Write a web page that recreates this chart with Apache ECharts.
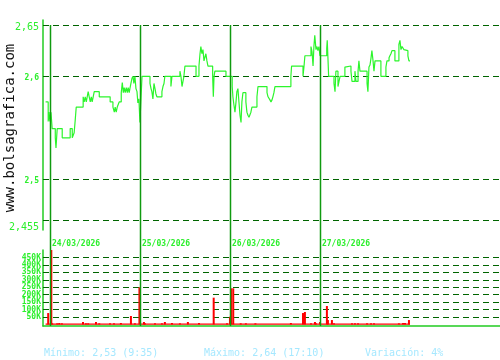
<!DOCTYPE html>
<html><head><meta charset="utf-8">
<script src="https://cdn.jsdelivr.net/npm/echarts@6/dist/echarts.min.js"></script>
<style>html,body{margin:0;padding:0;background:#fff}#c{width:500px;height:360px}</style>
</head><body><div id="c"></div>
<script>
// ---- data ----
const days = ['24/03/2026', '25/03/2026', '26/03/2026', '27/03/2026'];
const priceTicks = [2.455, 2.5, 2.6, 2.65];
const volumeTicks = [50000, 100000, 150000, 200000, 250000, 300000, 350000, 400000, 450000];

const d1Times = ['8:35','8:50','8:55','9:00','9:06','9:13','9:31','9:35','9:42','10:11','10:57','11:09','11:20','11:26','11:32','12:12','12:18','12:24','12:30','12:41','12:47','12:53','12:59','13:04','13:10','13:16','13:45','14:48','15:04','15:12','15:17','15:23','15:29','15:40','15:52','15:58','16:04','16:09','16:15','16:21','16:27','16:32','16:38','16:42','16:48','16:54','17:00','17:05','17:11','17:17','17:23','17:28','17:34'];
const d1Prices = [2.575,2.556,2.565,2.556,2.565,2.549,2.540,2.530,2.549,2.540,2.549,2.540,2.545,2.557,2.570,2.580,2.575,2.580,2.575,2.585,2.580,2.575,2.580,2.575,2.580,2.585,2.580,2.575,2.570,2.565,2.570,2.565,2.570,2.575,2.584,2.594,2.584,2.589,2.584,2.589,2.584,2.589,2.584,2.588,2.593,2.598,2.600,2.593,2.600,2.588,2.585,2.574,2.578];

const d2Times = ['9:00','9:06','9:12','9:58','10:04','10:09','10:15','10:21','10:27','10:32','10:38','11:07','11:13','11:19','11:24','11:59','12:05','12:51','12:57','13:03','13:14','13:20','14:24','14:41','14:47','14:52','14:58','15:04','15:10','15:16','15:21','15:27','15:33','16:00','16:04','16:08','16:13','17:17','17:34'];
const d2Prices = [2.555,2.578,2.600,2.593,2.588,2.585,2.578,2.593,2.588,2.583,2.580,2.585,2.590,2.593,2.600,2.590,2.600,2.605,2.600,2.590,2.600,2.610,2.600,2.610,2.622,2.629,2.622,2.626,2.615,2.619,2.622,2.615,2.610,2.600,2.580,2.600,2.605,2.600,2.600];

const d3Times = ['9:00','9:13','9:17','9:23','9:29','9:35','9:40','9:46','9:52','9:58','10:04','10:09','10:15','10:32','10:38','10:44','10:50','11:01','11:07','11:36','11:42','12:34','12:40','12:51','12:57','13:03','13:08','13:14','13:20','14:52','14:56','16:02','16:08','16:13','16:48','16:54','17:00','17:05','17:10','17:17','17:23','17:28','17:34'];
const d3Prices = [2.600,2.590,2.580,2.572,2.565,2.575,2.585,2.588,2.575,2.562,2.555,2.575,2.584,2.575,2.565,2.562,2.560,2.565,2.570,2.580,2.590,2.584,2.580,2.577,2.575,2.577,2.580,2.584,2.590,2.600,2.610,2.600,2.610,2.620,2.629,2.624,2.610,2.629,2.640,2.626,2.629,2.625,2.629];

const d4Times = ['9:00','9:39','9:42','9:46','9:50','10:21','10:27','10:32','10:44','10:50','10:56','11:24','11:30','11:59','12:05','12:22','12:28','12:40','12:45','12:51','13:32','13:37','13:43','13:49','13:55','14:00','14:06','14:12','14:18','14:52','15:21','15:27','15:39','15:44','15:50','15:56','16:13','16:36','16:42','16:48','16:54','17:05','17:11','17:28','17:34','17:40'];
const d4Prices = [2.620,2.627,2.635,2.618,2.600,2.593,2.585,2.605,2.590,2.595,2.600,2.609,2.610,2.605,2.595,2.605,2.595,2.605,2.615,2.605,2.593,2.585,2.609,2.611,2.618,2.625,2.616,2.605,2.615,2.600,2.609,2.615,2.618,2.620,2.622,2.625,2.615,2.631,2.635,2.626,2.629,2.626,2.625,2.620,2.615,2.615];

const v1Times = ['8:50','9:08','9:13','9:42','9:54','10:09','12:11','12:28','12:41','13:26','13:45','14:47','15:10','15:50','16:48','17:11','17:37'];
const v1Vols  = [77000,560000,8000,8000,10000,8000,17000,8000,8000,17000,8000,8000,8000,10000,57000,8000,250000];
const v2Times = ['9:23','9:29','10:27','11:07','11:24','12:05','12:51','13:37','14:41','16:06','17:23'];
const v2Vols  = [17000,8000,8000,8000,17000,10000,8000,17000,10000,180000,8000];
const v3Times = ['9:00','9:07','9:19','10:02','10:32','11:27','14:52','16:02','16:13','16:48','17:11','17:17'];
const v3Vols  = [52000,243000,243000,8000,8000,8000,10000,77000,84000,8000,17000,8000];
const v4Times = ['9:00','9:40','9:46','10:09','10:21','12:05','12:22','12:40','13:32','13:55','14:12','16:36','17:00','17:11','17:34'];
const v4Vols  = [17000,124000,30000,30000,8000,8000,8000,8000,8000,8000,8000,8000,10000,10000,30000];
const tradeFloor = 2500;

// ---- build ----
const SESSION = 520; // minutes of axis per trading-day slot
function tm(day, s) { const [h, m] = s.split(':').map(Number); return day * SESSION + h * 60 + m - 540; }
const priceDays = [[d1Times, d1Prices], [d2Times, d2Prices], [d3Times, d3Prices], [d4Times, d4Prices]];
const volDays = [[v1Times, v1Vols], [v2Times, v2Vols], [v3Times, v3Vols], [v4Times, v4Vols]];
const priceData = [], volData = [];
let minP = Infinity, maxP = -Infinity, minT = '', maxT = '';
priceDays.forEach(([ts, ps], d) => ts.forEach((t, i) => {
  priceData.push([tm(d, t), ps[i]]);
  if (ps[i] < minP) { minP = ps[i]; minT = t; }
  if (ps[i] > maxP) { maxP = ps[i]; maxT = t; }
}));
volDays.forEach(([ts, vs], d) => ts.forEach((t, i) => volData.push([tm(d, t), vs[i]])));
const floorData = [[priceData[0][0], tradeFloor], [priceData[priceData.length - 1][0], tradeFloor]];
const fmtP = v => v.toFixed(2).replace('.', ',');
const variation = Math.round((maxP - minP) / minP * 100);

const GREEN = '#2cef2c', AXIS = '#22cc22', GRID = '#006400', DAYLINE = '#109a10';
const MONO = '"DejaVu Sans Mono", "Liberation Mono", monospace';
const pxPerUnit = 200 / (priceTicks[3] - priceTicks[0]);

const chart = echarts.init(document.getElementById('c'), null, { renderer: 'canvas' });
chart.setOption({
  animation: false,
  backgroundColor: '#fff',
  grid: [
    { left: 43, right: 0, top: 20, height: 210 },
    { left: 43, right: 0, top: 250, height: 76 }
  ],
  xAxis: [
    { type: 'value', gridIndex: 0, min: -40, max: 2600, position: 'bottom',
      axisLine: { show: false, onZero: false }, axisTick: { show: false }, splitLine: { show: false },
      axisLabel: { customValues: days.map((_, i) => i * SESSION), formatter: v => days[Math.round(v / SESSION)],
        showMinLabel: true, showMaxLabel: true,
        align: 'left', verticalAlign: 'top', margin: 10, padding: [0, 0, 0, 2],
        color: GREEN, fontFamily: MONO, fontSize: 8, fontWeight: 'bold' } },
    { type: 'value', gridIndex: 1, min: -40, max: 2600,
      axisLine: { show: true, onZero: false, lineStyle: { color: AXIS, width: 1.5 } },
      axisTick: { show: false }, splitLine: { show: false }, axisLabel: { show: false } }
  ],
  yAxis: [
    { type: 'value', gridIndex: 0, min: priceTicks[0] - 5 / pxPerUnit, max: priceTicks[3] + 5 / pxPerUnit,
      axisLine: { show: true, onZero: false, lineStyle: { color: AXIS, width: 1.5 } }, axisTick: { show: false }, splitLine: { show: false },
      axisLabel: { customValues: priceTicks, margin: 4, padding: [4, 0, 0, 0], showMinLabel: true, showMaxLabel: true,
        formatter: v => (v === priceTicks[0] || v === priceTicks[3]) ? '{b|' + String(v).replace('.', ',') + '}' : '{s|' + String(v).replace('.', ',') + '}',
        rich: { b: { fontSize: 10, fontFamily: MONO, color: GREEN }, s: { fontSize: 8, fontFamily: MONO, color: GREEN, fontWeight: 'bold' } } } },
    { type: 'value', gridIndex: 1, min: -10000, max: 500000,
      axisLine: { show: true, onZero: false, lineStyle: { color: AXIS, width: 1.5 } }, axisTick: { show: false }, splitLine: { show: false },
      axisLabel: { show: false } }
  ],
  series: [
    { type: 'line', xAxisIndex: 0, yAxisIndex: 0, data: priceData, step: 'end', showSymbol: false,
      lineStyle: { color: '#2cf52c', width: 1.2 }, z: 5,
      markLine: { silent: true, symbol: 'none', label: { show: false },
        lineStyle: { color: GRID, type: [6, 4], width: 1 }, data: priceTicks.map(v => ({ yAxis: v })) } },
    { type: 'line', xAxisIndex: 1, yAxisIndex: 1, data: floorData, showSymbol: false,
      lineStyle: { color: '#ff0000', width: 1.2 }, z: 4 },
    { type: 'bar', xAxisIndex: 1, yAxisIndex: 1, data: volData, barWidth: 2, z: 5,
      itemStyle: { color: '#ff0000' },
      markLine: { silent: true, symbol: 'none',
        label: { show: true, position: 'start', distance: 2, formatter: p => (p.value / 1000) + 'K',
          color: GREEN, fontFamily: MONO, fontSize: 8, fontWeight: 'bold' },
        lineStyle: { color: GRID, type: [6, 4], width: 1 }, data: volumeTicks.map(v => ({ yAxis: v })) } }
  ],
  graphic: [
    { type: 'text', x: 10, y: 128, rotation: Math.PI / 2,
      style: { text: 'www.bolsagrafica.com', font: '14px ' + MONO, fill: '#111', align: 'center', verticalAlign: 'middle' } },
    { type: 'text', x: 44, y: 353,
      style: { text: 'Mínimo: ' + fmtP(minP) + ' (' + minT + ')', font: '10px ' + MONO, fill: '#a6e8ff', verticalAlign: 'middle' } },
    { type: 'text', x: 204, y: 353,
      style: { text: 'Máximo: ' + fmtP(maxP) + ' (' + maxT + ')', font: '10px ' + MONO, fill: '#a6e8ff', verticalAlign: 'middle' } },
    { type: 'text', x: 365, y: 353,
      style: { text: 'Variación: ' + variation + '%', font: '10px ' + MONO, fill: '#a6e8ff', verticalAlign: 'middle' } }
  ]
});

// day separator lines, positioned through the axes' scales
const yTop = chart.convertToPixel({ yAxisIndex: 0 }, priceTicks[3]);
const yBot = chart.convertToPixel({ yAxisIndex: 1 }, -10000);
const lines = days.map((_, i) => {
  const x = Math.round(chart.convertToPixel({ xAxisIndex: 0 }, i * SESSION)) + 0.5;
  return { id: 'day' + i, type: 'line', z: 100, shape: { x1: x, y1: yTop, x2: x, y2: yBot }, style: { stroke: DAYLINE, lineWidth: 1.5 } };
});
chart.setOption({ graphic: lines });
</script></body></html>
